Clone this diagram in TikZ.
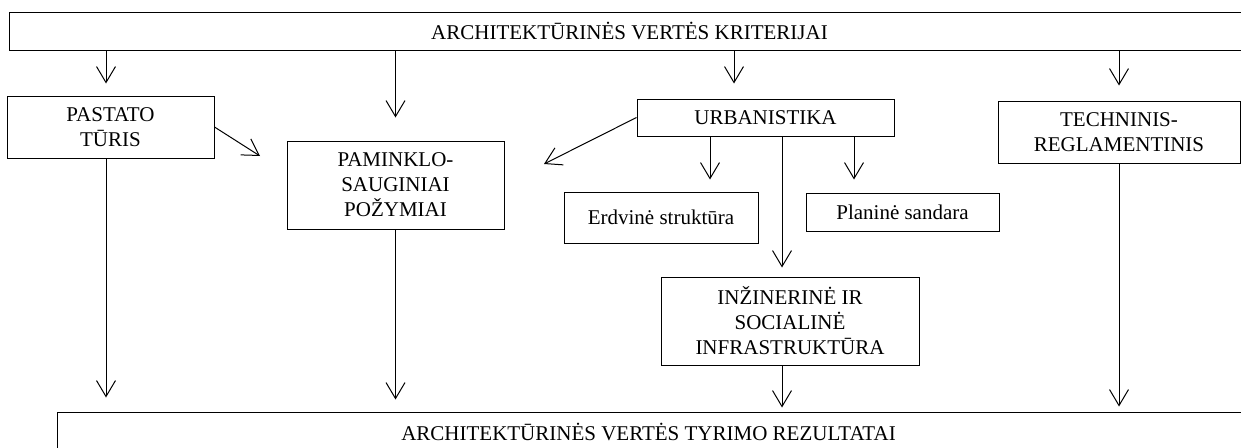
\documentclass[tikz,border=0pt]{standalone}
\usepackage{fontspec}
\setmainfont{Liberation Serif}
\usetikzlibrary{arrows.meta}
\begin{document}
\begin{tikzpicture}[x=1pt,y=-1pt,
  box/.style={draw, line width=1pt, inner sep=0pt, align=center, font=\fontsize{21}{25}\selectfont},
  arr/.style={line width=1pt, -{Straight Barb[length=16pt,width=19pt,line width=1pt]}}]
\clip (0,0) rectangle (1241,447);
% boxes
\node[box, minimum width=1241pt, minimum height=38pt] (top) at (629.5,31) {ARCHITEKTŪRINĖS VERTĖS KRITERIJAI};
\node[box, minimum width=207pt, minimum height=62pt] (pastato) at (110.5,127) {PASTATO\\TŪRIS};
\node[box, minimum width=217pt, minimum height=88pt] (paminklo) at (395.5,185) {PAMINKLO-\\SAUGINIAI\\POŽYMIAI};
\node[box, minimum width=257pt, minimum height=37pt] (urb) at (765.5,117.5) {URBANISTIKA};
\node[box, minimum width=242pt, minimum height=62pt] (tech) at (1119,132) {TECHNINIS-\\REGLAMENTINIS};
\node[box, minimum width=194pt, minimum height=51pt] (erd) at (661,217.5) {Erdvinė struktūra};
\node[box, minimum width=193pt, minimum height=38pt] (plan) at (902.5,212) {Planinė sandara};
\node[box, minimum width=258pt, minimum height=88pt] (inz) at (790,321) {INŽINERINĖ IR\\SOCIALINĖ\\INFRASTRUKTŪRA};
\node[box, minimum width=1210pt, minimum height=39pt] (bottom) at (662,431.5) {ARCHITEKTŪRINĖS VERTĖS TYRIMO REZULTATAI\hspace*{27pt}};
% helper coordinates
\coordinate (p1) at ([xshift=-4.5pt]pastato.north);
\coordinate (u1) at ([xshift=-31.5pt]urb.north);
\coordinate (e1) at ([xshift=49pt]erd.north);
\coordinate (pl1) at ([xshift=-48.5pt]plan.north);
\coordinate (i1) at ([xshift=-8pt]inz.north);
\coordinate (pe) at (260,156);
\coordinate (ue) at (544,164);
% arrows from top
\draw[arr, shorten >=12pt] (top.south -| p1) -- (p1);
\draw[arr, shorten >=23pt] (top.south -| paminklo.north) -- (paminklo.north);
\draw[arr, shorten >=15pt] (top.south -| u1) -- (u1);
\draw[arr, shorten >=15pt] (top.south -| tech.north) -- (tech.north);
% diagonal arrows
\draw[arr] (pastato.east) -- (pe);
\draw[arr] (urb.west) -- (ue);
% from urbanistika
\draw[arr, shorten >=12pt] (urb.south -| e1) -- (e1);
\draw[arr, shorten >=13pt] (urb.south -| pl1) -- (pl1);
\draw[arr, shorten >=9pt] (urb.south -| i1) -- (i1);
% to bottom
\draw[arr, shorten >=14pt] (pastato.south -| p1) -- (bottom.north -| p1);
\draw[arr, shorten >=12pt] (paminklo.south) -- (bottom.north -| paminklo.south);
\draw[arr, shorten >=4pt] (inz.south -| i1) -- (bottom.north -| i1);
\draw[arr, shorten >=5pt] (tech.south) -- (bottom.north -| tech.south);
\end{tikzpicture}
\end{document}
